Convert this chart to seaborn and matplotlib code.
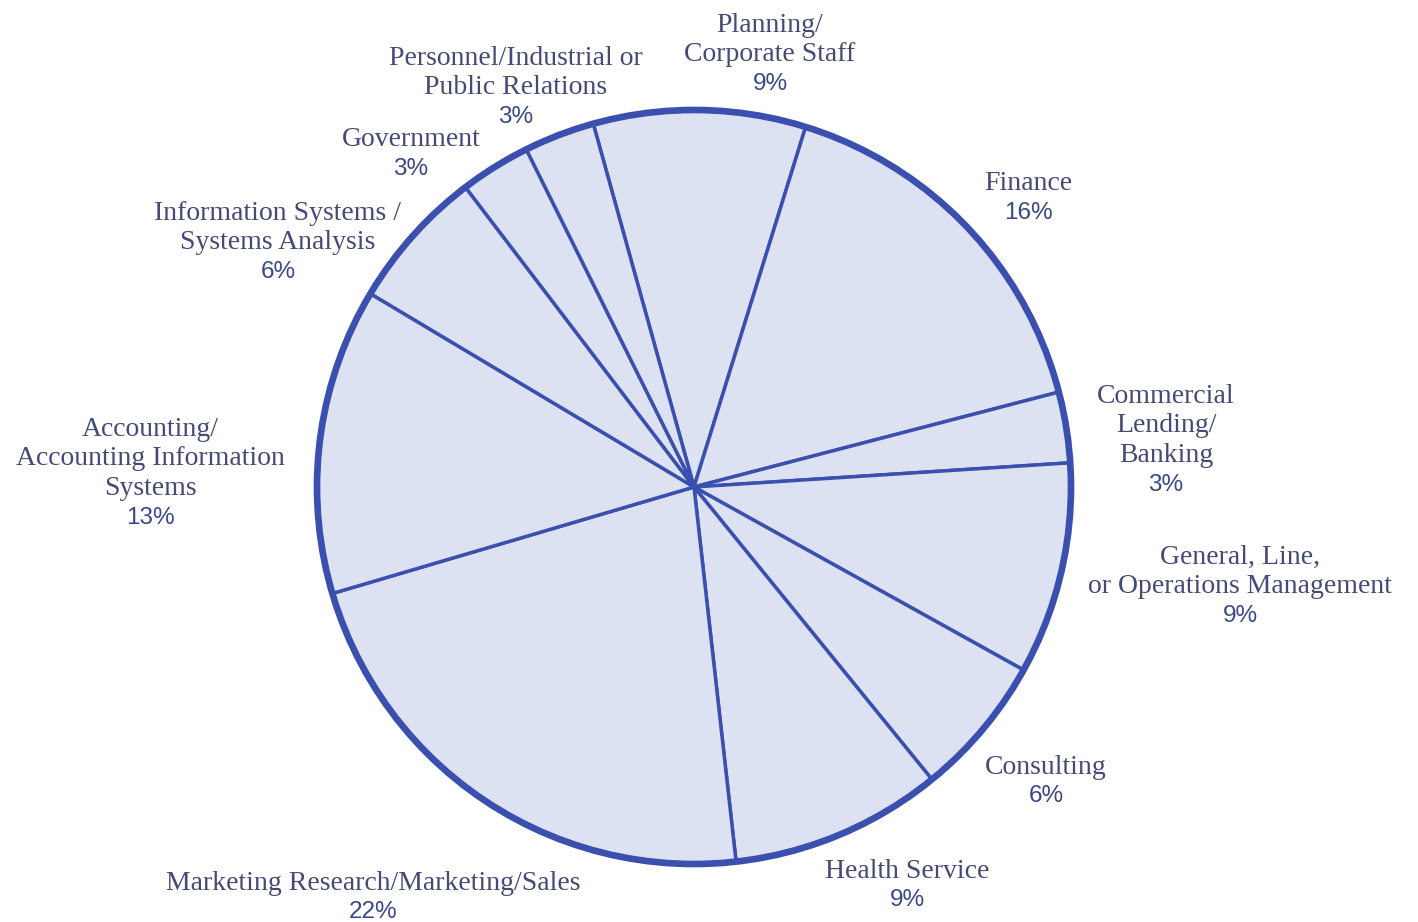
import numpy as np
import matplotlib.pyplot as plt
import seaborn as sns

# career fields, clockwise from the top
sectors = ["Planning/\nCorporate Staff", "Finance", "Commercial\nLending/\nBanking",
           "General, Line,\nor Operations Management", "Consulting", "Health Service",
           "Marketing Research/Marketing/Sales",
           "Accounting/\nAccounting Information\nSystems",
           "Information Systems /\nSystems Analysis", "Government",
           "Personnel/Industrial or\nPublic Relations"]
shares = [9, 16, 3, 9, 6, 9, 22, 13, 6, 3, 3]

# label placement in image pixels (x centre, y of first line, from top)
label_x = [770, 1028, 1166, 1240, 1046, 907, 373, 150, 278, 411, 516]
label_y = [25, 183, 396, 557, 767, 871, 883, 429, 213, 139, 58]

W, H = 1418, 922
cx, cy, R = 694, 487, 377
fill = "#dde2f3"
edge = "#3a4fae"
txt = "#454a76"
pct = "#3b4888"

sns.set_theme(style="white")
plt.rcParams['font.family'] = ['Liberation Serif', 'DejaVu Serif']

fig = plt.figure(figsize=(W / 100, H / 100), dpi=100)
ax = fig.add_axes([0, 0, 1, 1])
ax.pie(shares, center=(cx, H - cy), radius=R, startangle=105.5, counterclock=False,
       colors=[fill] * len(shares),
       wedgeprops=dict(edgecolor=edge, linewidth=2.5, joinstyle='round'))
ax.add_patch(plt.Circle((cx, H - cy), R, fill=False, ec=edge, lw=4.8))
ax.set_xlim(0, W)
ax.set_ylim(0, H)
ax.set_aspect('equal')
ax.axis('off')

step = 29.5
for name, v, x, y in zip(sectors, shares, label_x, label_y):
    lines = name.split("\n")
    for i, ln in enumerate(lines):
        ax.text(x, H - (y + i * step), ln, ha='center', va='center',
                fontsize=20, color=txt, family='Liberation Serif')
    ax.text(x, H - (y + len(lines) * step), f"{v}%", ha='center', va='center',
            fontsize=17.5, color=pct, family='Liberation Sans')

fig.savefig("out.png", dpi=100)
